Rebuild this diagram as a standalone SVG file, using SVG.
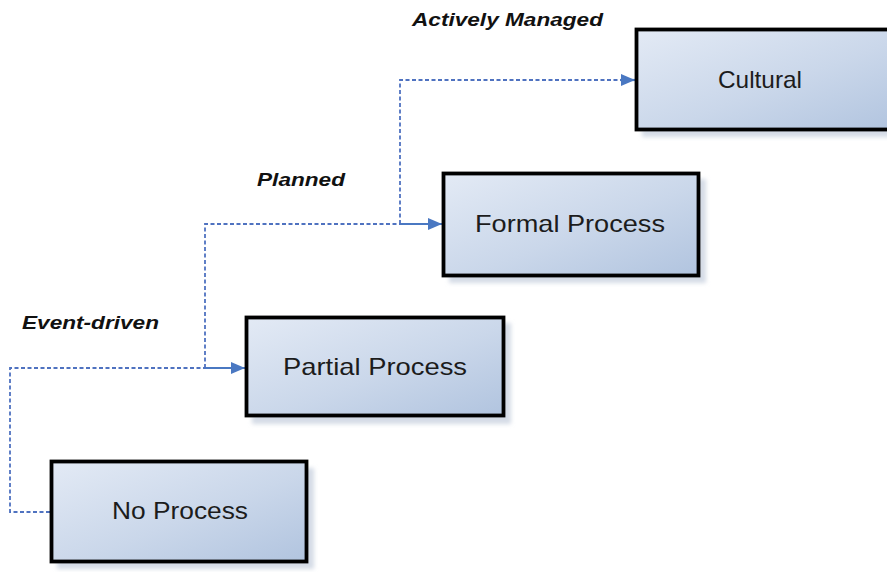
<svg xmlns="http://www.w3.org/2000/svg" width="887" height="572" viewBox="0 0 887 572">
  <defs>
    <linearGradient id="boxFill" x1="0" y1="0" x2="1" y2="1">
      <stop offset="0" stop-color="#e3eaf5"/>
      <stop offset="0.55" stop-color="#cad7ea"/>
      <stop offset="1" stop-color="#b1c4df"/>
    </linearGradient>
    <filter id="soft" x="-10%" y="-10%" width="130%" height="130%">
      <feGaussianBlur stdDeviation="2"/>
    </filter>
    <marker id="arrow" viewBox="0 0 14 12" refX="14" refY="6" markerWidth="14" markerHeight="12" markerUnits="userSpaceOnUse" orient="auto">
      <path d="M0,0 L14,6 L0,12 Z" fill="#4a78c2"/>
    </marker>
    <style>
      .shadow { fill: #d4dbe6; filter: url(#soft); }
      .box { fill: url(#boxFill); stroke: #000; stroke-width: 3.8; }
      .label { font-family: "Liberation Sans", Arial, sans-serif; font-size: 24px; fill: #1c1c1c; }
      .stage { font-family: "Liberation Sans", Arial, sans-serif; font-size: 18px; font-weight: bold; font-style: italic; fill: #111; }
      .dash { fill: none; stroke: #4f72c0; stroke-width: 1.8; stroke-dasharray: 4 2.5; }
      .solid { fill: none; stroke: #4a78c2; stroke-width: 2.2; }
    </style>
  </defs>

  <rect width="887" height="572" fill="#fff"/>

  <!-- stage labels -->
  <text class="stage" x="412" y="26" textLength="191" lengthAdjust="spacingAndGlyphs">Actively Managed</text>
  <text class="stage" x="257" y="186" textLength="88" lengthAdjust="spacingAndGlyphs">Planned</text>
  <text class="stage" x="22" y="329" textLength="137" lengthAdjust="spacingAndGlyphs">Event-driven</text>

  <!-- connectors -->
  <g id="connectors">
    <path class="dash" d="M50,512 H10 V368 H205"/>
    <path class="solid" d="M205,368 H245" marker-end="url(#arrow)"/>
    <path class="dash" d="M205,368 V224 H400"/>
    <path class="solid" d="M400,224 H442" marker-end="url(#arrow)"/>
    <path class="dash" d="M400,224 V80 H622"/>
    <path class="solid" d="M620,80 H635" marker-end="url(#arrow)"/>
  </g>

  <!-- nodes -->
  <g id="node-no-process">
    <rect class="shadow" x="57" y="468" width="257" height="101"/>
    <rect class="box" x="51.5" y="461.5" width="255" height="100"/>
    <text class="label" x="112" y="519" textLength="136" lengthAdjust="spacingAndGlyphs">No Process</text>
  </g>

  <g id="node-partial-process">
    <rect class="shadow" x="252" y="323" width="259" height="101"/>
    <rect class="box" x="246.5" y="317.5" width="257" height="98"/>
    <text class="label" x="283" y="375" textLength="184" lengthAdjust="spacingAndGlyphs">Partial Process</text>
  </g>

  <g id="node-formal-process">
    <rect class="shadow" x="449" y="179" width="257" height="104"/>
    <rect class="box" x="443.5" y="173.5" width="255" height="102"/>
    <text class="label" x="475" y="232" textLength="190" lengthAdjust="spacingAndGlyphs">Formal Process</text>
  </g>

  <g id="node-cultural">
    <rect class="shadow" x="642" y="35" width="257" height="102"/>
    <rect class="box" x="636.5" y="29.5" width="262" height="100"/>
    <text class="label" x="718" y="88" textLength="84" lengthAdjust="spacingAndGlyphs">Cultural</text>
  </g>
</svg>
